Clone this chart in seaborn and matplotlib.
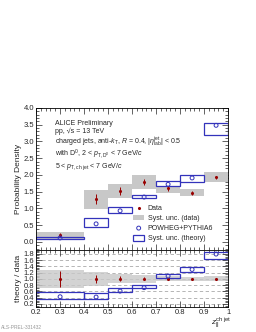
import numpy as np
import matplotlib
matplotlib.use("Agg")
import matplotlib.pyplot as plt
import seaborn as sns
import pandas as pd

# bins in z_||
bin_lo = [0.2, 0.4, 0.5, 0.6, 0.7, 0.8, 0.9]
bin_hi = [0.4, 0.5, 0.6, 0.7, 0.8, 0.9, 1.0]
z_center = [0.3, 0.45, 0.55, 0.65, 0.75, 0.85, 0.95]

# top panel: probability density
data_val = [0.22, 1.27, 1.52, 1.79, 1.60, 1.46, 1.93]
data_stat = [0.05, 0.15, 0.12, 0.10, 0.07, 0.05, 0.05]
data_sys_lo = [0.09, 0.99, 1.31, 1.58, 1.46, 1.37, 1.79]
data_sys_hi = [0.30, 1.55, 1.73, 2.00, 1.67, 1.58, 2.09]
theory_val = [0.12, 0.54, 0.93, 1.34, 1.72, 1.91, 3.48]
theory_sys_lo = [0.09, 0.45, 0.87, 1.31, 1.67, 1.79, 3.19]
theory_sys_hi = [0.14, 0.72, 1.04, 1.40, 1.82, 2.00, 3.55]

# bottom panel: theory / data
ratio_val = [0.43, 0.42, 0.61, 0.72, 1.09, 1.30, 1.79]
ratio_sys_lo = [0.37, 0.37, 0.58, 0.70, 1.03, 1.21, 1.64]
ratio_sys_hi = [0.58, 0.55, 0.70, 0.79, 1.15, 1.39, 1.85]
rel_stat = [0.25, 0.12, 0.08, 0.05, 0.04, 0.03, 0.03]
rel_sys_lo = [0.72, 0.78, 0.86, 0.88, 0.92, 0.93, 0.92]
rel_sys_hi = [1.28, 1.22, 1.14, 1.12, 1.08, 1.07, 1.08]

df = pd.DataFrame({'z': z_center, 'data': data_val, 'theory': theory_val,
                   'ratio': ratio_val, 'one': [1.0] * 7})
widths = np.array(bin_hi) - np.array(bin_lo)

sns.set_theme(style="ticks")
plt.rcParams['font.family'] = ['Liberation Sans', 'DejaVu Sans']
plt.rcParams['mathtext.fontset'] = 'custom'
plt.rcParams['mathtext.rm'] = 'Liberation Sans'
plt.rcParams['mathtext.it'] = 'Liberation Sans:italic'

red = '#990000'
blue = '#3333bb'
grey = '#c8c8c8'
fs = 5.5
tfs = 5.0

fig = plt.figure(figsize=(2.56, 3.32), dpi=100)
ax1 = fig.add_axes([0.141, 0.247, 0.75, 0.428])
ax2 = fig.add_axes([0.141, 0.075, 0.75, 0.172])

# --- top panel
ax1.bar(bin_lo, np.array(data_sys_hi) - np.array(data_sys_lo), bottom=data_sys_lo,
        width=widths, align='edge', color=grey, lw=0, label='Syst. unc. (data)')
ax1.bar(bin_lo, np.array(theory_sys_hi) - np.array(theory_sys_lo), bottom=theory_sys_lo,
        width=widths, align='edge', facecolor='none', edgecolor=blue, lw=0.9,
        label='Syst. unc. (theory)')
ax1.errorbar(z_center, data_val, yerr=data_stat, fmt='none', ecolor=red, elinewidth=0.7)
sns.scatterplot(data=df, x='z', y='data', ax=ax1, color=red, s=5, edgecolor=red,
                linewidth=0, zorder=5, label='Data')
sns.scatterplot(data=df, x='z', y='theory', ax=ax1, facecolor='none', edgecolor=blue,
                s=8, linewidth=0.7, zorder=5, label='POWHEG+PYTHIA6')

ax1.set_xlim(0.2, 1.0)
ax1.set_ylim(-0.24, 4.0)
ax1.set_yticks(np.arange(0, 4.01, 0.5))
ax1.set_yticklabels([f'{v:.1f}' for v in np.arange(0, 4.01, 0.5)])
ax1.set_yticks(np.arange(-0.2, 4.01, 0.1), minor=True)
ax1.set_xticks(np.arange(0.2, 1.001, 0.1))
ax1.set_xticks(np.arange(0.2, 1.001, 0.02), minor=True)
ax1.set_xticklabels([])
ax1.set_xlabel('')
ax1.set_ylabel('Probability Density', fontsize=fs + 0.5)

h, l = ax1.get_legend_handles_labels()
order = [l.index(n) for n in ['Data', 'Syst. unc. (data)', 'POWHEG+PYTHIA6', 'Syst. unc. (theory)']]
ax1.legend([h[i] for i in order], [l[i] for i in order], loc='lower left',
           bbox_to_anchor=(0.48, 0.02), frameon=False, fontsize=tfs,
           handlelength=1.6, handleheight=0.8, labelspacing=0.45, handletextpad=0.5,
           borderpad=0.2)

# header text block
ax1.text(0.099, 0.893, 'ALICE Preliminary', transform=ax1.transAxes, fontsize=tfs, va='center')
ax1.text(0.099, 0.838, 'pp, \u221as = 13 TeV', transform=ax1.transAxes, fontsize=tfs, va='center')
ax1.text(0.099, 0.764, r'charged jets, anti-$k_{\mathrm{T}}$, $R$ = 0.4, $|\eta_{\mathrm{lab}}^{\mathrm{jet}}|$ < 0.5',
         transform=ax1.transAxes, fontsize=tfs, va='center')
ax1.text(0.099, 0.676, r'with D$^{0}$, 2 < $p_{\mathrm{T,D^{0}}}$ < 7 GeV/$c$',
         transform=ax1.transAxes, fontsize=tfs, va='center')
ax1.text(0.099, 0.590, r'5 < $p_{\mathrm{T,ch\ jet}}$ < 7 GeV/$c$',
         transform=ax1.transAxes, fontsize=tfs, va='center')

# --- bottom panel
for y in np.arange(0.2, 1.81, 0.2):
    ax2.axhline(y, color='#aaaaaa', lw=0.6, ls=(0, (4, 3)), zorder=0)
ax2.bar(bin_lo, np.array(rel_sys_hi) - np.array(rel_sys_lo), bottom=rel_sys_lo,
        width=widths, align='edge', color=grey, lw=0, alpha=0.8)
ax2.bar(bin_lo, np.array(ratio_sys_hi) - np.array(ratio_sys_lo), bottom=ratio_sys_lo,
        width=widths, align='edge', facecolor='none', edgecolor=blue, lw=0.9)
ax2.errorbar(z_center, [1.0] * 7, yerr=rel_stat, fmt='none', ecolor=red, elinewidth=0.7)
sns.scatterplot(data=df, x='z', y='one', ax=ax2, color=red, s=5, linewidth=0, zorder=5)
sns.scatterplot(data=df, x='z', y='ratio', ax=ax2, facecolor='none', edgecolor=blue,
                s=8, linewidth=0.7, zorder=5)

ax2.set_xlim(0.2, 1.0)
ax2.set_ylim(0.1, 1.92)
ax2.set_yticks(np.arange(0.2, 1.81, 0.2))
ax2.set_yticklabels([f'{v:.1f}' for v in np.arange(0.2, 1.81, 0.2)])
ax2.set_yticks(np.arange(0.1, 1.92, 0.05), minor=True)
ax2.set_xticks(np.arange(0.2, 1.001, 0.1))
ax2.set_xticklabels(['0.2', '0.3', '0.4', '0.5', '0.6', '0.7', '0.8', '0.9', '1'])
ax2.set_xticks(np.arange(0.2, 1.001, 0.02), minor=True)
ax2.set_xlabel('')
ax2.set_ylabel('theory / data', fontsize=fs + 0.5)

for ax in (ax1, ax2):
    ax.tick_params(which='both', direction='in', top=True, right=True, labelsize=fs,
                   width=0.5, pad=1.5)
    ax.tick_params(which='major', length=4)
    ax.tick_params(which='minor', length=2)
    for s in ax.spines.values():
        s.set_linewidth(0.6)
        s.set_color('black')
    ax.yaxis.set_label_coords(-0.075, 0.5)

fig.text(0.905, 0.002, r'$z_{||}^{\mathrm{ch\ jet}}$', fontsize=fs + 0.5, ha='right', va='bottom')
fig.text(0.005, 0.013, 'ALS-PREL-331432', fontsize=3.5, color='#999999', va='center')

fig.savefig('out.png', dpi=100)
